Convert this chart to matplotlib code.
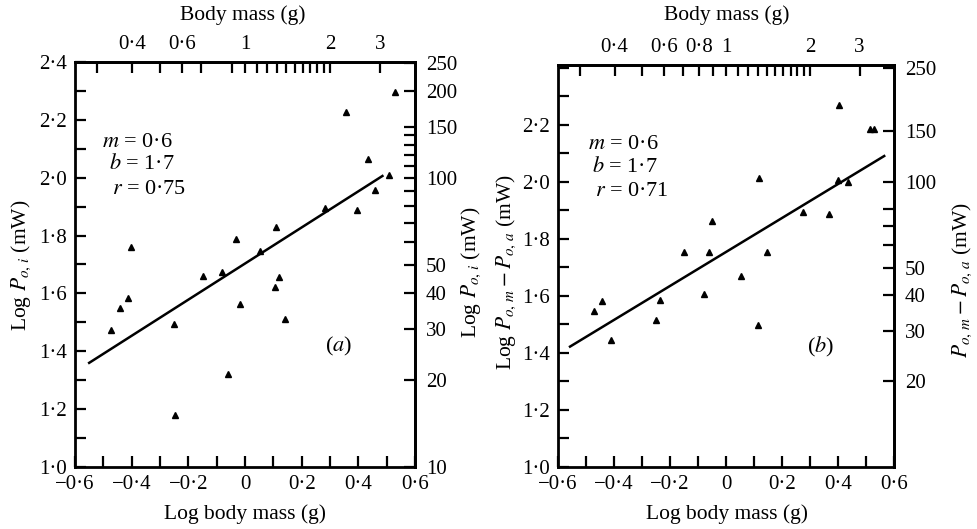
import matplotlib
matplotlib.use("Agg")
import matplotlib.pyplot as plt
from matplotlib.ticker import MultipleLocator, NullFormatter
import numpy as np

plt.rcParams['font.family'] = ['Liberation Serif', 'DejaVu Serif']
plt.rcParams['mathtext.fontset'] = 'stix'
plt.rcParams['font.size'] = 15

# panel (a): log body mass vs log P_o,i
a_x = [-0.474, -0.440, -0.412, -0.402, -0.252, -0.246, -0.149, -0.080, -0.061, -0.033,
       -0.018, 0.053, 0.106, 0.119, 0.141, 0.109, 0.357, 0.282, 0.396, 0.529,
       0.435, 0.507, 0.458]
a_y = [1.472, 1.548, 1.583, 1.762, 1.493, 1.181, 1.660, 1.675, 1.323, 1.789,
       1.563, 1.748, 1.623, 1.657, 1.510, 1.829, 2.227, 1.895, 1.887, 2.297,
       2.065, 2.010, 1.959]
a_fit_x = [-0.55, 0.485]
a_fit_y = [1.36, 2.006]

# panel (b): log body mass vs log (P_o,m - P_o,a)
b_x = [-0.471, -0.442, -0.412, -0.250, -0.236, -0.149, -0.061, -0.077, 0.054, 0.113,
       0.148, -0.051, 0.117, 0.274, 0.368, 0.402, 0.399, 0.514, 0.529, 0.437]
b_y = [1.548, 1.581, 1.446, 1.516, 1.587, 1.755, 1.755, 1.606, 1.670, 1.496,
       1.755, 1.863, 2.012, 1.895, 1.887, 2.269, 2.006, 2.183, 2.183, 2.000]
b_fit_x = [-0.557, 0.565]
b_fit_y = [1.422, 2.090]

x_ticks = [-0.6, -0.4, -0.2, 0.0, 0.2, 0.4, 0.6]
x_labels = ['\u22120\u00b76', '\u22120\u00b74', '\u22120\u00b72', '0', '0\u00b72', '0\u00b74', '0\u00b76']
a_yticks = [1.0, 1.2, 1.4, 1.6, 1.8, 2.0, 2.2, 2.4]
a_ylabels = ['1\u00b70', '1\u00b72', '1\u00b74', '1\u00b76', '1\u00b78', '2\u00b70', '2\u00b72', '2\u00b74']
b_yticks = a_yticks[:-1]
b_ylabels = a_ylabels[:-1]

a_mass_ticks = [0.4, 0.6, 1, 2, 3]
a_mass_labels = ['0\u00b74', '0\u00b76', '1', '2', '3']
b_mass_ticks = [0.4, 0.6, 0.8, 1, 2, 3]
b_mass_labels = ['0\u00b74', '0\u00b76', '0\u00b78', '1', '2', '3']
mass_minor = [0.3, 0.5, 0.7, 0.9, 1.1, 1.2, 1.3, 1.4, 1.5, 1.6, 1.7, 1.8, 1.9]

a_mw_ticks = [250, 200, 150, 100, 50, 40, 30, 20, 10]
a_mw_minor = [140, 130, 120, 110, 90, 80, 70, 60]
b_mw_ticks = [250, 150, 100, 50, 40, 30, 20]
b_mw_minor = [80, 70, 60]

W, H = 978, 529
fig = plt.figure(figsize=(W / 100, H / 100), dpi=100)


def px(x0, y0, x1, y1):
    return [x0 / W, 1 - y1 / H, (x1 - x0) / W, (y1 - y0) / H]


def setup(ax, ylim, yticks, ylabels, mass_ticks, mass_labels, mw_ticks, mw_minor):
    ax.set_xlim(-0.6, 0.6)
    ax.set_ylim(*ylim)
    for s in ax.spines.values():
        s.set_linewidth(2.0)
    ax.set_xticks(x_ticks, x_labels)
    ax.set_yticks(yticks, ylabels)
    ax.xaxis.set_minor_locator(MultipleLocator(0.1))
    ax.yaxis.set_minor_locator(MultipleLocator(0.1))
    ax.tick_params(which='both', direction='in', length=8, width=1.6, labelsize=15)
    ax.tick_params(axis='x', pad=6)
    ax.tick_params(axis='y', pad=6)

    top = ax.secondary_xaxis('top', functions=(lambda v: 10 ** v, np.log10))
    top.set_xticks(mass_ticks, mass_labels)
    top.set_xticks(mass_minor, minor=True)
    top.xaxis.set_minor_formatter(NullFormatter())
    top.tick_params(which='both', direction='in', length=8, width=1.6, labelsize=15, pad=6)
    top.spines['top'].set_linewidth(2.0)

    right = ax.secondary_yaxis('right', functions=(lambda v: 10 ** v, np.log10))
    right.set_yticks(mw_ticks, [str(t) for t in mw_ticks])
    right.set_yticks(mw_minor, minor=True)
    right.yaxis.set_minor_formatter(NullFormatter())
    right.tick_params(which='both', direction='in', length=8, width=1.6, labelsize=15, pad=8)
    right.spines['right'].set_linewidth(2.0)


ax1 = fig.add_axes(px(75, 62, 415, 467))
setup(ax1, (1.0, 2.4), a_yticks, a_ylabels, a_mass_ticks, a_mass_labels, a_mw_ticks, a_mw_minor)
ax1.plot(a_x, a_y, 'k^', ms=4.2, clip_on=False)
ax1.plot(a_fit_x, a_fit_y, 'k-', lw=1.8)
ax1.text(0.08, 0.79, '$m$ = 0\u00b76', transform=ax1.transAxes, fontsize=16)
ax1.text(0.10, 0.735, '$b$ = 1\u00b77', transform=ax1.transAxes, fontsize=16)
ax1.text(0.11, 0.675, '$r$ = 0\u00b775', transform=ax1.transAxes, fontsize=16)
ax1.text(0.735, 0.285, '($a$)', transform=ax1.transAxes, fontsize=16)

ax2 = fig.add_axes(px(558, 65, 894, 467))
setup(ax2, (1.0, 2.409), b_yticks, b_ylabels, b_mass_ticks, b_mass_labels, b_mw_ticks, b_mw_minor)
ax2.plot(b_x, b_y, 'k^', ms=4.2, clip_on=False)
ax2.plot(b_fit_x, b_fit_y, 'k-', lw=1.8)
ax2.text(0.09, 0.79, '$m$ = 0\u00b76', transform=ax2.transAxes, fontsize=16)
ax2.text(0.10, 0.735, '$b$ = 1\u00b77', transform=ax2.transAxes, fontsize=16)
ax2.text(0.11, 0.675, '$r$ = 0\u00b771', transform=ax2.transAxes, fontsize=16)
ax2.text(0.74, 0.285, '($b$)', transform=ax2.transAxes, fontsize=16)

# axis titles placed in pixel coordinates
def ftext(x, y, s, rot=0):
    fig.text(x / W, 1 - y / H, s, ha='center', va='center', rotation=rot, fontsize=15.5)

ftext(243, 15, 'Body mass (g)')
ftext(727, 15, 'Body mass (g)')
ftext(245, 514, 'Log body mass (g)')
ftext(727, 514, 'Log body mass (g)')
ftext(21, 265, 'Log $P_{o,\\,i}$ (mW)', 90)
ftext(471, 272, 'Log $P_{o,\\,i}$ (mW)', 90)
ftext(506, 272, 'Log $P_{o,\\,m} - P_{o,\\,a}$ (mW)', 90)
ftext(962, 280, '$P_{o,\\,m} - P_{o,\\,a}$ (mW)', 90)

fig.savefig('out.png', dpi=100)
